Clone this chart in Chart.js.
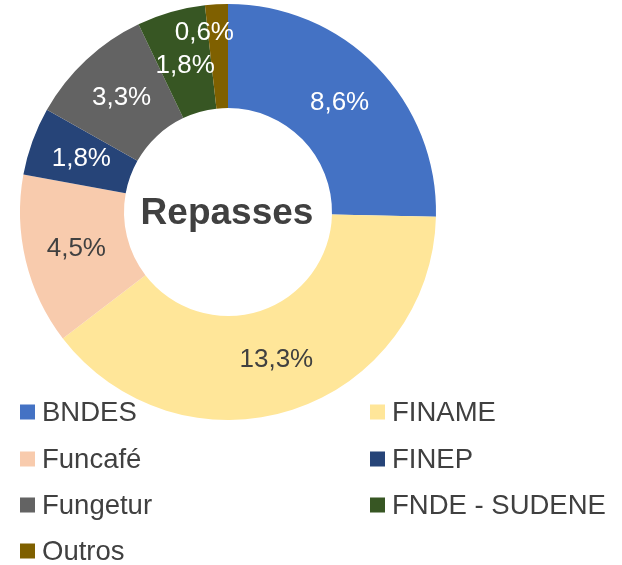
<!DOCTYPE html>
<html>
<head>
<meta charset="utf-8">
<style>
  html, body { margin: 0; padding: 0; background: #ffffff; }
  #chart { display: block; }
</style>
<script src="https://cdn.jsdelivr.net/npm/chart.js@4"></script>
</head>
<body>
<canvas id="chart" width="622" height="565"></canvas>
<script>
// data
var categories = ['BNDES', 'FINAME', 'Funcafé', 'FINEP', 'Fungetur', 'FNDE - SUDENE', 'Outros'];
var shares = [8.6, 13.3, 4.5, 1.8, 3.3, 1.8, 0.6];
var shareLabels = ['8,6%', '13,3%', '4,5%', '1,8%', '3,3%', '1,8%', '0,6%'];
var sliceColors = ['#4472C4', '#FFE699', '#F8CBAD', '#264478', '#636363', '#375623', '#7F6000'];
var labelColors = ['#ffffff', '#404040', '#404040', '#ffffff', '#ffffff', '#ffffff', '#ffffff'];
// nudges for the two crowded labels at the top
var labelShiftX = [0, 0, 0, 0, 0, 0, -15];
var labelShiftY = [0, 0, 0, 0, 0, 4, -23];
var centerTitle = 'Repasses';

(function () {
    var fontFamily = '"Liberation Sans", Arial, sans-serif';

    var sliceLabels = {
        id: 'sliceLabels',
        afterDatasetsDraw: function (chart) {
            var ctx = chart.ctx;
            var meta = chart.getDatasetMeta(0);
            ctx.save();
            ctx.font = '26px ' + fontFamily;
            ctx.textAlign = 'center';
            ctx.textBaseline = 'middle';
            meta.data.forEach(function (arc, i) {
                var p = arc.tooltipPosition();
                ctx.fillStyle = labelColors[i];
                ctx.fillText(shareLabels[i], p.x + labelShiftX[i], p.y + labelShiftY[i]);
            });

            var cx = (chart.chartArea.left + chart.chartArea.right) / 2;
            var cy = (chart.chartArea.top + chart.chartArea.bottom) / 2;
            ctx.font = 'bold 37px ' + fontFamily;
            ctx.fillStyle = '#404040';
            ctx.fillText(centerTitle, cx - 1, cy + 2);
            ctx.restore();
        }
    };

    var gridLegend = {
        id: 'gridLegend',
        afterDraw: function (chart) {
            var ctx = chart.ctx;
            var colX = [20, 370];
            var rowY = [412, 459, 505, 551];
            ctx.save();
            ctx.font = '27.5px ' + fontFamily;
            ctx.textBaseline = 'middle';
            ctx.textAlign = 'left';
            categories.forEach(function (name, i) {
                var x = colX[i % 2];
                var y = rowY[Math.floor(i / 2)];
                ctx.fillStyle = sliceColors[i];
                ctx.fillRect(x, y - 7.5, 15, 15);
                ctx.fillStyle = '#404040';
                ctx.fillText(name, x + 22, y + 1);
            });
            ctx.restore();
        }
    };

    new Chart(document.getElementById('chart'), {
        type: 'doughnut',
        data: {
            labels: categories,
            datasets: [{
                data: shares,
                backgroundColor: sliceColors,
                borderWidth: 0,
                hoverOffset: 0
            }]
        },
        options: {
            responsive: false,
            animation: false,
            cutout: '50%',
            layout: {
                padding: { top: 4, bottom: 145, left: 20, right: 186 }
            },
            plugins: {
                legend: { display: false },
                tooltip: { enabled: false }
            }
        },
        plugins: [sliceLabels, gridLegend]
    });
})();
</script>
</body>
</html>
